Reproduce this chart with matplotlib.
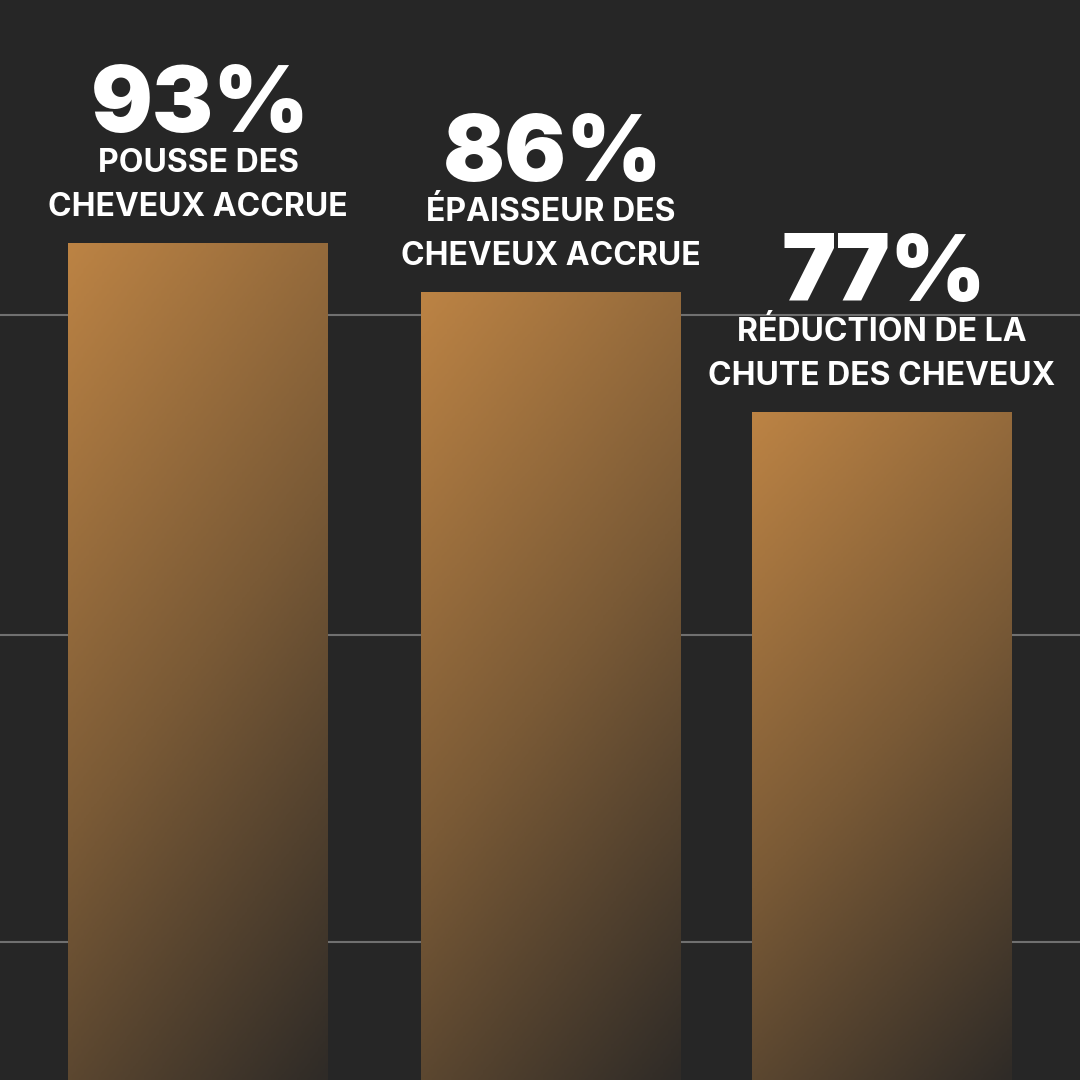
import numpy as np
import matplotlib
matplotlib.use("Agg")
import matplotlib.pyplot as plt
from matplotlib.colors import LinearSegmentedColormap
from matplotlib.patches import Rectangle

# ─── Données ──────────────────────────────────────────────────────────────────
pourcentages = ["93%", "86%", "77%"]
etiquettes   = ["POUSSE DES\nCHEVEUX ACCRUE",
                "ÉPAISSEUR DES\nCHEVEUX ACCRUE",
                "RÉDUCTION DE LA\nCHUTE DES CHEVEUX"]
hauteurs     = [837, 788, 668]          # hauteur des barres (unités pixel)
centres      = [198, 551, 882]          # centre des barres
lignes_grille = [765, 445, 138]

BG = "#262626"
cmap = LinearSegmentedColormap.from_list("grad", ["#BC8344", "#7a5a36", "#2f2b27"])

fig = plt.figure(figsize=(10.8, 10.8), dpi=100)
fig.patch.set_facecolor(BG)
ax = fig.add_axes([0, 0, 1, 1])
ax.set_facecolor(BG)
ax.set_xlim(0, 1080)
ax.set_ylim(0, 1080)
ax.axis("off")

for y in lignes_grille:
    ax.axhline(y, color="#707070", linewidth=1.5, zorder=1)

largeur = 260
for cx, h, pct, lab in zip(centres, hauteurs, pourcentages, etiquettes):
    x0 = cx - largeur / 2
    # dégradé diagonal : clair en haut à gauche, sombre en bas à droite
    xx, yy = np.meshgrid(np.linspace(0, 1, 100), np.linspace(0, 1, 300))
    grad = 0.3 * xx + 0.7 * yy
    rect = Rectangle((x0, 0), largeur, h, facecolor="none", edgecolor="none")
    ax.add_patch(rect)
    im = ax.imshow(grad, cmap=cmap, extent=(x0, x0 + largeur, 0, h),
                   origin="upper", aspect="auto", zorder=2, vmin=0, vmax=1)
    im.set_clip_path(rect)

    ax.text(cx, h + 20, lab, ha="center", va="bottom", color="white",
            fontsize=23, fontweight="bold", family="Inter", linespacing=1.55, zorder=3)
    ax.text(cx + 2, h + 92, pct, ha="center", va="bottom", color="white",
            fontsize=66, fontweight="black", family="Inter", zorder=3)

fig.savefig("out.png", dpi=100, facecolor=BG)
